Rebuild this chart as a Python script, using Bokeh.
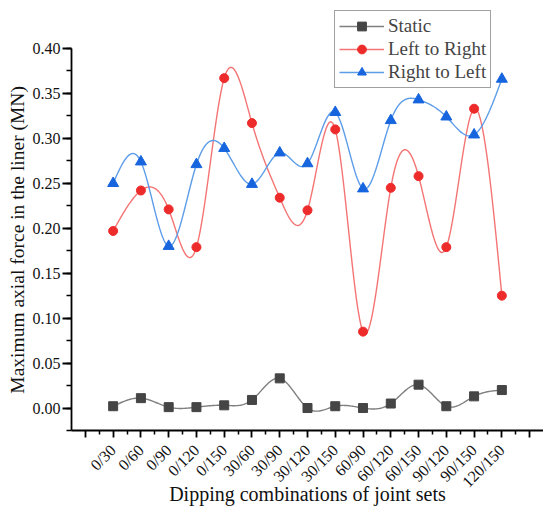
import math
import numpy as np
from bokeh.plotting import figure
from bokeh.models import (Range1d, FixedTicker, SingleIntervalTicker, Legend,
                          LegendItem, PrintfTickFormatter)
from bokeh.embed import file_html
from bokeh.resources import INLINE

combos = ["0/30", "0/60", "0/90", "0/120", "0/150", "30/60", "30/90", "30/120",
          "30/150", "60/90", "60/120", "60/150", "90/120", "90/150", "120/150"]
static = [0.002, 0.011, 0.001, 0.001, 0.003, 0.009, 0.033, 0.000,
          0.002, 0.000, 0.005, 0.026, 0.002, 0.013, 0.020]
left_to_right = [0.197, 0.242, 0.221, 0.179, 0.367, 0.317, 0.234, 0.220,
                 0.310, 0.085, 0.245, 0.258, 0.179, 0.333, 0.125]
right_to_left = [0.250, 0.274, 0.180, 0.271, 0.289, 0.249, 0.284, 0.272,
                 0.329, 0.244, 0.320, 0.343, 0.324, 0.304, 0.366]

xpos = list(range(1, len(combos) + 1))


def natural_spline(x, y, n=24):
    x = np.asarray(x, float)
    y = np.asarray(y, float)
    m = len(x)
    h = np.diff(x)
    A = np.zeros((m, m))
    b = np.zeros(m)
    A[0, 0] = 1
    A[-1, -1] = 1
    for i in range(1, m - 1):
        A[i, i - 1] = h[i - 1]
        A[i, i] = 2 * (h[i - 1] + h[i])
        A[i, i + 1] = h[i]
        b[i] = 6 * ((y[i + 1] - y[i]) / h[i] - (y[i] - y[i - 1]) / h[i - 1])
    M = np.linalg.solve(A, b)
    xs, ys = [], []
    for i in range(m - 1):
        t = np.linspace(x[i], x[i + 1], n, endpoint=(i == m - 2))
        a = x[i + 1] - t
        c = t - x[i]
        s = ((M[i] * a ** 3 + M[i + 1] * c ** 3) / (6 * h[i])
             + (y[i] / h[i] - M[i] * h[i] / 6) * a
             + (y[i + 1] / h[i] - M[i + 1] * h[i] / 6) * c)
        xs.append(t)
        ys.append(s)
    return np.concatenate(xs), np.concatenate(ys)


FONT = "Liberation Serif"
Y_MIN, Y_AXIS_TOP, Y_VIEW_TOP = -0.025, 0.40, 0.4534
NBSP = "\u00a0"

p = figure(width=543, height=510, output_backend="svg", toolbar_location=None,
           x_range=Range1d(-0.5, 16.5), y_range=Range1d(Y_MIN, Y_VIEW_TOP),
           min_border_left=71, min_border_right=0, min_border_top=0,
           min_border_bottom=80)
p.outline_line_color = None
p.xgrid.visible = False
p.ygrid.visible = False

series = [
    ("Static", static, "#7f7f7f", "#454545", "square", 9),
    ("Left to Right", left_to_right, "#f47474", "#ee2b2b", "circle", 9),
    ("Right to Left", right_to_left, "#5c9ce8", "#1765de", "triangle", 11),
]
items = []
for name, vals, lc, mc, marker, size in series:
    sx, sy = natural_spline(xpos, vals)
    ln = p.line(sx, sy, line_color=lc, line_width=1.4)
    sc = p.scatter(xpos, vals, marker=marker, size=size, fill_color=mc,
                   line_color=mc)
    items.append(LegendItem(label=name, renderers=[ln, sc]))

legend = Legend(items=items, location=(263, 342), glyph_width=45,
                glyph_height=22, label_standoff=4, spacing=1, padding=4,
                margin=0, label_text_font=FONT, label_text_font_size="19px",
                label_height=22, border_line_color="#444444",
                border_line_width=1, background_fill_alpha=1)
p.add_layout(legend)

# y axis (trailing no-break spaces shift the rotated title down to the
# centre of the drawn axis span)
p.yaxis.ticker = SingleIntervalTicker(interval=0.05, num_minor_ticks=2)
p.yaxis.formatter = PrintfTickFormatter(format="%.2f")
p.yaxis.bounds = (Y_MIN, Y_AXIS_TOP)
p.yaxis.axis_label = "Maximum axial force in the liner (MN)" + NBSP * 10

# x axis
p.xaxis.ticker = FixedTicker(ticks=list(range(0, 17)),
                             minor_ticks=[i + 0.5 for i in range(0, 16)])
overrides = {0: "", 16: ""}
for i, c in enumerate(combos):
    overrides[i + 1] = c
p.xaxis.major_label_overrides = overrides
p.xaxis.major_label_orientation = math.pi / 4
p.xaxis.axis_label = "Dipping combinations of joint sets"

for ax in (p.xaxis[0], p.yaxis[0]):
    ax.axis_line_color = "black"
    ax.axis_line_width = 1.8
    ax.major_tick_line_color = "black"
    ax.major_tick_line_width = 1.8
    ax.minor_tick_line_color = "black"
    ax.minor_tick_line_width = 1.5
    ax.major_tick_in = 0
    ax.minor_tick_in = 0
    ax.major_label_text_font = FONT
    ax.major_label_text_font_size = "16px"
    ax.major_label_text_color = "#111111"
    ax.axis_label_text_font = FONT
    ax.axis_label_text_font_style = "normal"
    ax.axis_label_text_color = "#111111"

p.yaxis.major_tick_out = 9
p.yaxis.minor_tick_out = 5
p.yaxis.major_label_standoff = 2
p.yaxis.axis_label_standoff = 2
p.yaxis.axis_label_text_font_size = "19.5px"

p.xaxis.major_tick_out = 7
p.xaxis.minor_tick_out = 4
p.xaxis.major_label_standoff = 10
p.xaxis.axis_label_standoff = -17
p.xaxis.axis_label_text_font_size = "20px"

open("out.html", "w").write(file_html(p, INLINE))
